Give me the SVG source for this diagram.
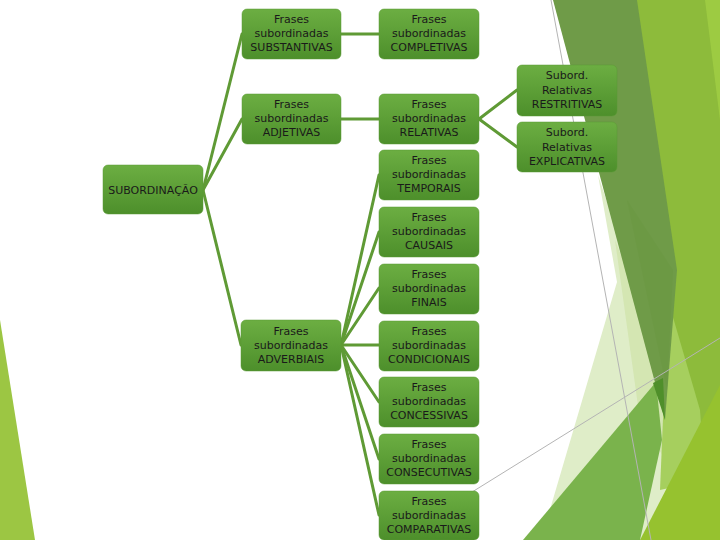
<svg xmlns="http://www.w3.org/2000/svg" width="720" height="540" viewBox="0 0 720 540">
<defs>
<linearGradient id="g" x1="0" y1="0" x2="0" y2="1">
<stop offset="0" stop-color="#6cae42"/>
<stop offset="1" stop-color="#4d8f2b"/>
</linearGradient>
<style>
.n{fill:url(#g);stroke:#5a9a34;stroke-width:0.5}
.t{font-family:"DejaVu Sans",Verdana,sans-serif;font-size:11px;fill:#1a1a1a;text-anchor:middle}
.c{stroke:#5f9a35;stroke-width:3;fill:none;stroke-linecap:round}
.gl{stroke:#b4b4b4;stroke-width:1;fill:none}
</style>
</defs>
<rect width="720" height="540" fill="#ffffff"/>
<g id="background">
<polygon points="0,320 35,540 0,540" fill="#9cc643"/>
<polygon points="637,0 720,0 720,540 637,540" fill="#8dbb3b"/>
<polygon points="705,0 720,0 720,120" fill="#9dcb42"/>
<polygon points="598,175 640,300 690,540 541,540 617,282" fill="#dfedc8"/>
<polygon points="615,240 650,330 672,470 640,420" fill="#cfe3a8" opacity="0.7"/>
<polygon points="668,300 700,410 705,480 660,490" fill="#a6cf5e"/>
<polygon points="640,540 720,385 720,540" fill="#96c22f"/>
<polygon points="523,540 656,382 662,440 640,540" fill="#7ab34c"/>
<polygon points="553,0 637,0 677,270 665,420" fill="#6f9b48"/>
<polygon points="627,200 673,270 667,390" fill="#6a9842" opacity="0.6"/>
<polygon points="653,383 663,378 665,420" fill="#4f8f2a"/>
<line class="gl" x1="551" y1="0" x2="651" y2="540"/>
<line class="gl" x1="456" y1="502" x2="720" y2="338"/>
</g>
<g id="connectors">
<line class="c" x1="203" y1="190" x2="242" y2="34"/>
<line class="c" x1="203" y1="190" x2="242" y2="119"/>
<line class="c" x1="203" y1="190" x2="241" y2="345"/>
<line class="c" x1="341" y1="34" x2="379" y2="34"/>
<line class="c" x1="341" y1="119" x2="379" y2="119"/>
<line class="c" x1="479" y1="119" x2="517" y2="90"/>
<line class="c" x1="479" y1="119" x2="517" y2="147"/>
<line class="c" x1="341" y1="345" x2="379" y2="175"/>
<line class="c" x1="341" y1="345" x2="379" y2="232"/>
<line class="c" x1="341" y1="345" x2="379" y2="288"/>
<line class="c" x1="341" y1="345" x2="379" y2="345"/>
<line class="c" x1="341" y1="345" x2="379" y2="402"/>
<line class="c" x1="341" y1="345" x2="379" y2="459"/>
<line class="c" x1="341" y1="345" x2="379" y2="515"/>
</g>
<g id="subordinacao"><rect class="n" x="103" y="165" width="100" height="49" rx="5"/><text class="t" x="153" y="194">SUBORDINAÇÃO</text></g>
<g id="substantivas"><rect class="n" x="242" y="9" width="99" height="50" rx="5"/><text class="t" x="291.5" y="23">Frases</text><text class="t" x="291.5" y="37">subordinadas</text><text class="t" x="291.5" y="51">SUBSTANTIVAS</text></g>
<g id="adjetivas"><rect class="n" x="242" y="94" width="99" height="50" rx="5"/><text class="t" x="291.5" y="108">Frases</text><text class="t" x="291.5" y="122">subordinadas</text><text class="t" x="291.5" y="136">ADJETIVAS</text></g>
<g id="adverbiais"><rect class="n" x="241" y="320" width="100" height="51" rx="5"/><text class="t" x="291" y="335">Frases</text><text class="t" x="291" y="349">subordinadas</text><text class="t" x="291" y="363">ADVERBIAIS</text></g>
<g id="completivas"><rect class="n" x="379" y="9" width="100" height="50" rx="5"/><text class="t" x="429" y="23">Frases</text><text class="t" x="429" y="37">subordinadas</text><text class="t" x="429" y="51">COMPLETIVAS</text></g>
<g id="relativas"><rect class="n" x="379" y="94" width="100" height="50" rx="5"/><text class="t" x="429" y="108">Frases</text><text class="t" x="429" y="122">subordinadas</text><text class="t" x="429" y="136">RELATIVAS</text></g>
<g id="temporais"><rect class="n" x="379" y="150" width="100" height="50" rx="5"/><text class="t" x="429" y="164">Frases</text><text class="t" x="429" y="178">subordinadas</text><text class="t" x="429" y="192">TEMPORAIS</text></g>
<g id="causais"><rect class="n" x="379" y="207" width="100" height="50" rx="5"/><text class="t" x="429" y="221">Frases</text><text class="t" x="429" y="235">subordinadas</text><text class="t" x="429" y="249">CAUSAIS</text></g>
<g id="finais"><rect class="n" x="379" y="264" width="100" height="50" rx="5"/><text class="t" x="429" y="278">Frases</text><text class="t" x="429" y="292">subordinadas</text><text class="t" x="429" y="306">FINAIS</text></g>
<g id="condicionais"><rect class="n" x="379" y="321" width="100" height="50" rx="5"/><text class="t" x="429" y="335">Frases</text><text class="t" x="429" y="349">subordinadas</text><text class="t" x="429" y="363">CONDICIONAIS</text></g>
<g id="concessivas"><rect class="n" x="379" y="377" width="100" height="50" rx="5"/><text class="t" x="429" y="391">Frases</text><text class="t" x="429" y="405">subordinadas</text><text class="t" x="429" y="419">CONCESSIVAS</text></g>
<g id="consecutivas"><rect class="n" x="379" y="434" width="100" height="50" rx="5"/><text class="t" x="429" y="448">Frases</text><text class="t" x="429" y="462">subordinadas</text><text class="t" x="429" y="476">CONSECUTIVAS</text></g>
<g id="comparativas"><rect class="n" x="379" y="491" width="100" height="49" rx="5"/><text class="t" x="429" y="505">Frases</text><text class="t" x="429" y="519">subordinadas</text><text class="t" x="429" y="533">COMPARATIVAS</text></g>
<g id="restritivas"><rect class="n" x="517" y="65" width="100" height="51" rx="5"/><text class="t" x="567" y="79">Subord.</text><text class="t" x="567" y="94">Relativas</text><text class="t" x="567" y="108">RESTRITIVAS</text></g>
<g id="explicativas"><rect class="n" x="517" y="122" width="100" height="50" rx="5"/><text class="t" x="567" y="136">Subord.</text><text class="t" x="567" y="151">Relativas</text><text class="t" x="567" y="165">EXPLICATIVAS</text></g>
</svg>
